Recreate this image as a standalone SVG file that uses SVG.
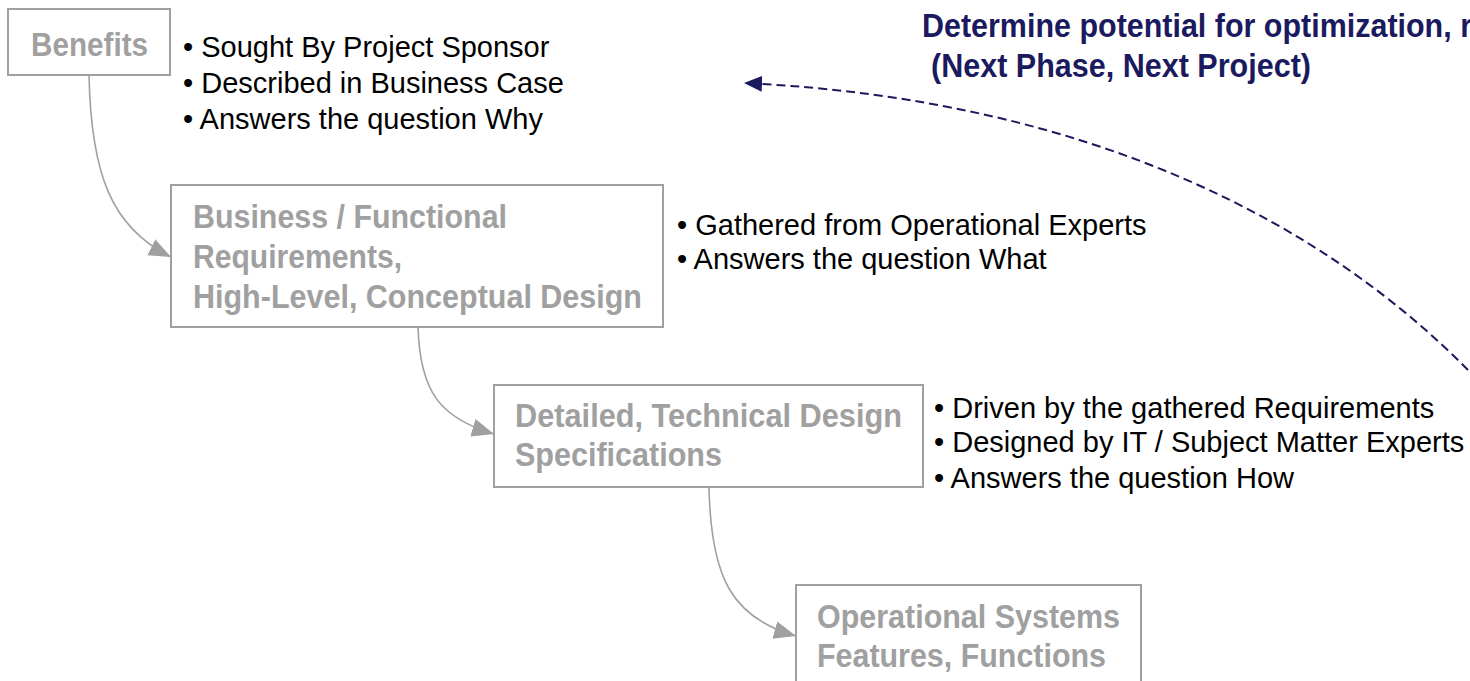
<svg xmlns="http://www.w3.org/2000/svg" width="1470" height="681" viewBox="0 0 1470 681">
  <style>
    .box { fill: #ffffff; stroke: #a0a0a0; stroke-width: 2; }
    .head { font-family: "Liberation Sans", Arial, sans-serif; font-weight: bold; font-size: 34px; fill: #a0a0a0; }
    .body { font-family: "Liberation Sans", Arial, sans-serif; font-size: 29px; fill: #000000; }
    .title { font-family: "Liberation Sans", Arial, sans-serif; font-weight: bold; font-size: 33px; fill: #1b1a5e; }
    .flow { fill: none; stroke: #a0a0a0; stroke-width: 1.6; }
    .loop { fill: none; stroke: #1b1a5e; stroke-width: 2; stroke-dasharray: 9 5; }
  </style>
  <defs>
    <marker id="arrowGray" markerUnits="userSpaceOnUse" markerWidth="24" markerHeight="20" refX="22" refY="10" orient="auto">
      <path d="M0,1 L22,10 L0,19 Z" fill="#a0a0a0"/>
    </marker>
    <marker id="arrowNavy" markerUnits="userSpaceOnUse" markerWidth="20" markerHeight="20" refX="18" refY="10" orient="auto">
      <path d="M0,2 L18,10 L0,18 Z" fill="#1b1a5e"/>
    </marker>
  </defs>

  <!-- connectors -->
  <g id="connectors">
    <path class="flow" d="M89,75 C91,175 112,228 171,257" marker-end="url(#arrowGray)"/>
    <path class="flow" d="M418,327 C420,392 440,418 494,434" marker-end="url(#arrowGray)"/>
    <path class="flow" d="M709,488 C711,578 732,618 796,636" marker-end="url(#arrowGray)"/>
    <path class="loop" d="M1468,370 C1330,230 1100,100 744,83" marker-end="url(#arrowNavy)"/>
  </g>

  <!-- title -->
  <g id="title">
    <text class="title" x="922" y="37" textLength="550" lengthAdjust="spacingAndGlyphs">Determine potential for optimization, r</text>
    <text class="title" x="931" y="77" textLength="380" lengthAdjust="spacingAndGlyphs">(Next Phase, Next Project)</text>
  </g>

  <!-- nodes -->
  <g id="benefits">
    <rect class="box" x="8" y="9" width="162" height="66"/>
    <text class="head" x="31" y="56" textLength="117" lengthAdjust="spacingAndGlyphs">Benefits</text>
  </g>
  <g id="benefits-notes">
    <text class="body" x="183" y="57">• Sought By Project Sponsor</text>
    <text class="body" x="183" y="93">• Described in Business Case</text>
    <text class="body" x="183" y="129">• Answers the question Why</text>
  </g>

  <g id="requirements">
    <rect class="box" x="171" y="185" width="492" height="142"/>
    <text class="head" x="193" y="228" textLength="314" lengthAdjust="spacingAndGlyphs">Business / Functional</text>
    <text class="head" x="193" y="268" textLength="209" lengthAdjust="spacingAndGlyphs">Requirements,</text>
    <text class="head" x="193" y="308" textLength="449" lengthAdjust="spacingAndGlyphs">High-Level, Conceptual Design</text>
  </g>
  <g id="requirements-notes">
    <text class="body" x="677" y="235">• Gathered from Operational Experts</text>
    <text class="body" x="677" y="269">• Answers the question What</text>
  </g>

  <g id="design">
    <rect class="box" x="494" y="385" width="429" height="102"/>
    <text class="head" x="515" y="427" textLength="387" lengthAdjust="spacingAndGlyphs">Detailed, Technical Design</text>
    <text class="head" x="515" y="466" textLength="207" lengthAdjust="spacingAndGlyphs">Specifications</text>
  </g>
  <g id="design-notes">
    <text class="body" x="934" y="418">• Driven by the gathered Requirements</text>
    <text class="body" x="934" y="452">• Designed by IT / Subject Matter Experts</text>
    <text class="body" x="934" y="488">• Answers the question How</text>
  </g>

  <g id="systems">
    <rect class="box" x="796" y="585" width="345" height="110"/>
    <text class="head" x="817" y="628" textLength="303" lengthAdjust="spacingAndGlyphs">Operational Systems</text>
    <text class="head" x="817" y="667" textLength="289" lengthAdjust="spacingAndGlyphs">Features, Functions</text>
  </g>
</svg>
